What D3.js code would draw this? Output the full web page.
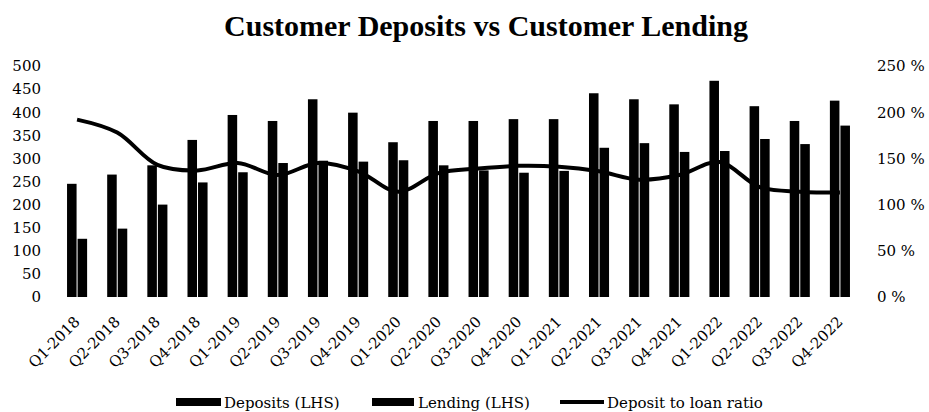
<!DOCTYPE html>
<html>
<head>
<meta charset="utf-8">
<script src="https://cdn.jsdelivr.net/npm/d3@7"></script>
<style>
  html, body { margin: 0; padding: 0; background: #fff; }
  svg { display: block; }
</style>
</head>
<body>
<svg id="chart" width="929" height="412"></svg>
<script>
const categories = ["Q1-2018","Q2-2018","Q3-2018","Q4-2018","Q1-2019","Q2-2019","Q3-2019","Q4-2019",
  "Q1-2020","Q2-2020","Q3-2020","Q4-2020","Q1-2021","Q2-2021","Q3-2021","Q4-2021",
  "Q1-2022","Q2-2022","Q3-2022","Q4-2022"];
const deposits = [245, 265, 285, 340, 394, 381, 428, 399, 335, 381, 381, 385, 385, 441, 428, 417, 468, 413, 381, 425];
const lending  = [126, 148, 200, 248, 270, 290, 295, 293, 296, 285, 274, 269, 273, 323, 333, 314, 316, 342, 331, 371];
const ratio    = [192, 178, 143, 137, 145, 132, 145, 136, 114, 134, 139, 142, 141, 136, 127, 132, 146, 119, 114, 113];
const leftTicks  = [0, 50, 100, 150, 200, 250, 300, 350, 400, 450, 500];
const rightTicks = [0, 50, 100, 150, 200, 250];
const title = "Customer Deposits vs Customer Lending";
const legendLabels = ["Deposits (LHS)", "Lending (LHS)", "Deposit to loan ratio"];

const svg = d3.select("#chart");
const x = d3.scaleBand().domain(categories).range([57, 860]).paddingInner(0.5).paddingOuter(0.25);
const y = d3.scaleLinear().domain([0, 500]).range([297, 66]);
const y2 = d3.scaleLinear().domain([0, 250]).range([297, 66]);
const bw = x.bandwidth();
const half = bw / 2;

// title
svg.append("text").attr("x", 486).attr("y", 36).attr("text-anchor", "middle")
  .attr("font-family", "Liberation Serif").attr("font-weight", "bold").attr("font-size", 30)
  .attr("fill", "#000").text(title);

// left axis
const leftAxis = d3.axisLeft(y).tickValues(leftTicks).tickSize(0).tickPadding(0);
const gl = svg.append("g").attr("transform", "translate(41,0)").call(leftAxis);
gl.select(".domain").remove();
gl.selectAll("text").attr("font-family", "DejaVu Serif").attr("font-size", 15).attr("fill", "#000");

// right axis
const rightAxis = d3.axisRight(y2).tickValues(rightTicks).tickSize(0).tickPadding(0).tickFormat(d => d + " %");
const gr = svg.append("g").attr("transform", "translate(877,0)").call(rightAxis);
gr.select(".domain").remove();
gr.selectAll("text").attr("font-family", "DejaVu Serif").attr("font-size", 15).attr("fill", "#000");

// bars
svg.append("g").selectAll("rect").data(categories).join("rect")
  .attr("x", (d) => x(d)).attr("width", half - 0.5)
  .attr("y", (d, i) => y(deposits[i])).attr("height", (d, i) => y(0) - y(deposits[i]))
  .attr("fill", "#000");
svg.append("g").selectAll("rect").data(categories).join("rect")
  .attr("x", (d) => x(d) + half + 0.5).attr("width", half - 0.5)
  .attr("y", (d, i) => y(lending[i])).attr("height", (d, i) => y(0) - y(lending[i]))
  .attr("fill", "#000");

// line
const line = d3.line()
  .x((d, i) => x(categories[i]) + half)
  .y(d => y2(d))
  .curve(d3.curveCatmullRom.alpha(0.5));
svg.append("path").datum(ratio).attr("d", line)
  .attr("fill", "none").attr("stroke", "#000").attr("stroke-width", 4)
  .attr("stroke-linejoin", "round");

// x labels
const xAxis = d3.axisBottom(x).tickSize(0).tickPadding(0);
const gx = svg.append("g").attr("transform", "translate(0,306)").call(xAxis);
gx.select(".domain").remove();
gx.selectAll("text")
  .attr("font-family", "DejaVu Serif").attr("font-size", 15).attr("fill", "#000")
  .attr("text-anchor", "end").attr("dy", "0.35em")
  .attr("transform", "translate(0,13) rotate(-45)");

// legend
const lg = svg.append("g");
lg.append("rect").attr("x", 176).attr("y", 398).attr("width", 45).attr("height", 8).attr("fill", "#000");
lg.append("text").attr("x", 224).attr("y", 408).text(legendLabels[0]);
lg.append("rect").attr("x", 372).attr("y", 398).attr("width", 42).attr("height", 8).attr("fill", "#000");
lg.append("text").attr("x", 418).attr("y", 408).text(legendLabels[1]);
lg.append("line").attr("x1", 560).attr("x2", 604).attr("y1", 402).attr("y2", 402)
  .attr("stroke", "#000").attr("stroke-width", 4);
lg.append("text").attr("x", 607).attr("y", 408).text(legendLabels[2]);
lg.selectAll("text").attr("font-family", "DejaVu Serif").attr("font-size", 15).attr("fill", "#000");
</script>
</body>
</html>
